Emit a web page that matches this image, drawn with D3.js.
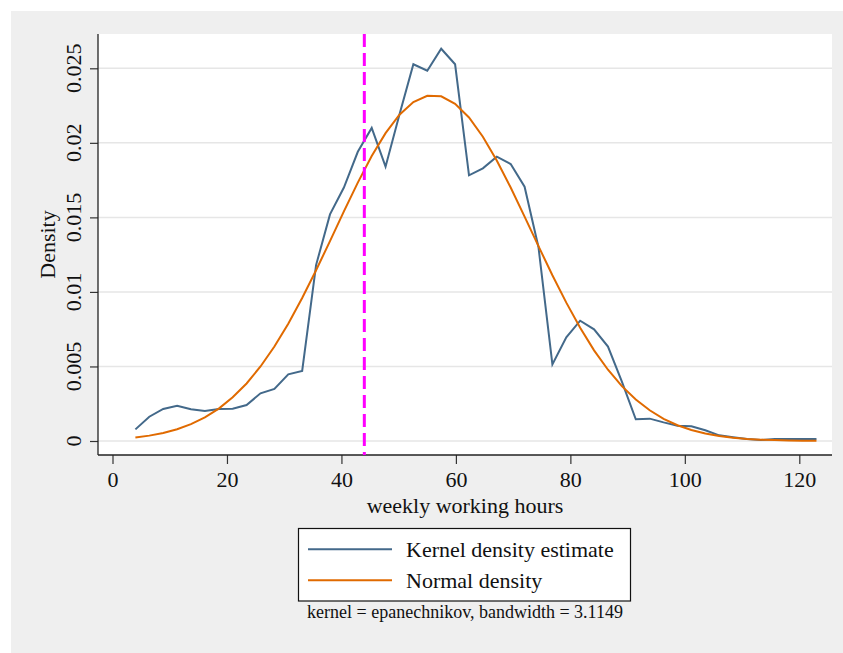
<!DOCTYPE html>
<html>
<head>
<meta charset="utf-8">
<script src="https://cdn.jsdelivr.net/npm/d3@7"></script>
<style>
  body { margin: 0; background: #fff; }
  svg text { font-family: "Liberation Serif", "Times New Roman", serif; fill: #111; }
</style>
</head>
<body>
<div id="chart"></div>
<script>
// evaluation grid (weekly working hours)
var hours = [4.00, 6.43, 8.86, 11.29, 13.71, 16.14, 18.57, 21.00, 23.43, 25.86,
             28.29, 30.71, 33.14, 35.57, 38.00, 40.43, 42.86, 45.29, 47.71, 50.14,
             52.57, 55.00, 57.43, 59.86, 62.29, 64.71, 67.14, 69.57, 72.00, 74.43,
             76.86, 79.29, 81.71, 84.14, 86.57, 89.00, 91.43, 93.86, 96.29, 98.71,
             101.14, 103.57, 106.00, 108.43, 110.86, 113.29, 115.71, 118.14, 120.57, 123.00];

var kernelDensity = [0.00078, 0.00163, 0.00215, 0.00237, 0.00213, 0.00201, 0.00215, 0.00217, 0.00241, 0.00320,
                     0.00349, 0.00447, 0.00470, 0.01180, 0.01520, 0.01700, 0.01940, 0.02100, 0.01840, 0.02190,
                     0.02527, 0.02484, 0.02631, 0.02527, 0.01782, 0.01829, 0.01907, 0.01858, 0.01706, 0.01300,
                     0.00514, 0.00696, 0.00807, 0.00749, 0.00633, 0.00398, 0.00146, 0.00150, 0.00125, 0.00103,
                     0.00099, 0.00072, 0.00038, 0.00025, 0.00013, 0.00007, 0.00013, 0.00013, 0.00013, 0.00013];

var normalDensity = [0.00024, 0.00036, 0.00054, 0.00079, 0.00113, 0.00158, 0.00217, 0.00293, 0.00386, 0.00500,
                     0.00634, 0.00787, 0.00959, 0.01145, 0.01341, 0.01540, 0.01733, 0.01911, 0.02065, 0.02189,
                     0.02274, 0.02316, 0.02312, 0.02262, 0.02170, 0.02041, 0.01881, 0.01700, 0.01505, 0.01307,
                     0.01112, 0.00928, 0.00759, 0.00608, 0.00478, 0.00368, 0.00278, 0.00206, 0.00149, 0.00106,
                     0.00074, 0.00051, 0.00034, 0.00022, 0.00014, 0.00009, 0.00006, 0.00003, 0.00002, 0.00001];

var xTicks = [0, 20, 40, 60, 80, 100, 120];
var yTicks = [0, 0.005, 0.01, 0.015, 0.02, 0.025];
var yTickLabels = ["0", "0.005", "0.01", "0.015", "0.02", "0.025"];
var refLine = 44;
var legendLabels = ["Kernel density estimate", "Normal density"];
var noteText = "kernel = epanechnikov, bandwidth = 3.1149";

var W = 843, H = 653;
var plot = {left: 98, right: 832, top: 34, bottom: 455};
var colors = {kernel: "#43698a", normal: "#e06a00", ref: "#ff00ff"};

var xScale = d3.scaleLinear().domain([0, 120]).range([112.5, 799.3]);
var yScale = d3.scaleLinear().domain([0, 0.025]).range([441, 68.3]);

var svg = d3.select("#chart").append("svg")
    .attr("width", W)
    .attr("height", H);

// graph region
svg.append("rect")
    .attr("x", 11).attr("y", 11)
    .attr("width", W - 11).attr("height", H - 11)
    .style("fill", "#efefef");

// plot region
svg.append("rect")
    .attr("x", plot.left).attr("y", plot.top)
    .attr("width", plot.right - plot.left)
    .attr("height", plot.bottom - plot.top)
    .style("fill", "#fff");

// grid lines
svg.append("g").selectAll("line")
    .data(yTicks)
    .join("line")
    .attr("x1", plot.left).attr("x2", plot.right)
    .attr("y1", function(d) { return yScale(d); })
    .attr("y2", function(d) { return yScale(d); })
    .style("stroke", "#e6e6e6")
    .style("stroke-width", 1.5);

// x axis
var xAxis = svg.append("g")
    .attr("transform", "translate(0," + plot.bottom + ")")
    .call(d3.axisBottom(xScale).tickValues(xTicks).tickSize(9).tickFormat(d3.format("d")));
xAxis.select(".domain").remove();
xAxis.selectAll(".tick line").style("stroke", "#333").style("stroke-width", 1.2);
xAxis.selectAll(".tick text")
    .attr("y", 32).attr("dy", null)
    .style("font-size", "22px")
    .style("font-family", "'Liberation Serif', serif")
    .style("fill", "#111");

// y axis
var yAxis = svg.append("g")
    .attr("transform", "translate(" + plot.left + ",0)")
    .call(d3.axisLeft(yScale).tickValues(yTicks).tickSize(8).tickFormat(""));
yAxis.select(".domain").remove();
yAxis.selectAll(".tick line").style("stroke", "#333").style("stroke-width", 1.2);

svg.append("g").selectAll("text")
    .data(yTicks)
    .join("text")
    .attr("transform", function(d) { return "translate(80.5," + yScale(d) + ") rotate(-90)"; })
    .attr("text-anchor", "middle")
    .style("font-size", "22px")
    .text(function(d, i) { return yTickLabels[i]; });

// axis lines
svg.append("line")
    .attr("x1", plot.left).attr("x2", plot.left)
    .attr("y1", plot.top).attr("y2", plot.bottom)
    .style("stroke", "#222").style("stroke-width", 1.3);
svg.append("line")
    .attr("x1", plot.left).attr("x2", plot.right)
    .attr("y1", plot.bottom).attr("y2", plot.bottom)
    .style("stroke", "#222").style("stroke-width", 1.3);

// axis titles
svg.append("text")
    .attr("transform", "translate(55," + ((plot.top + plot.bottom) / 2) + ") rotate(-90)")
    .attr("text-anchor", "middle")
    .style("font-size", "22px")
    .text("Density");

svg.append("text")
    .attr("x", (plot.left + plot.right) / 2)
    .attr("y", 512.5)
    .attr("text-anchor", "middle")
    .style("font-size", "22px")
    .text("weekly working hours");

// curves
var line = function(values) {
    return d3.line()
        .x(function(d, i) { return xScale(hours[i]); })
        .y(function(d) { return yScale(d); })(values);
};

svg.append("path")
    .attr("d", line(kernelDensity))
    .style("fill", "none")
    .style("stroke", colors.kernel)
    .style("stroke-width", 2)
    .style("stroke-linejoin", "miter");

svg.append("path")
    .attr("d", line(normalDensity))
    .style("fill", "none")
    .style("stroke", colors.normal)
    .style("stroke-width", 2);

// reference line at 44 hours
svg.append("line")
    .attr("x1", xScale(refLine)).attr("x2", xScale(refLine))
    .attr("y1", plot.top).attr("y2", plot.bottom)
    .style("stroke", colors.ref)
    .style("stroke-width", 3)
    .style("stroke-dasharray", "13,6");

// legend
var legend = svg.append("g");
legend.append("rect")
    .attr("x", 298.5).attr("y", 528.5)
    .attr("width", 332).attr("height", 72.5)
    .style("fill", "#fff")
    .style("stroke", "#111")
    .style("stroke-width", 1.2);

var legendColors = [colors.kernel, colors.normal];
legendLabels.forEach(function(label, i) {
    var cy = 549.3 + i * 31;
    legend.append("line")
        .attr("x1", 308).attr("x2", 392)
        .attr("y1", cy).attr("y2", cy)
        .style("stroke", legendColors[i])
        .style("stroke-width", 2);
    legend.append("text")
        .attr("x", 406).attr("y", cy + 7.5)
        .style("font-size", "22px")
        .text(label);
});

// note
svg.append("text")
    .attr("x", (plot.left + plot.right) / 2)
    .attr("y", 618)
    .attr("text-anchor", "middle")
    .style("font-size", "18px")
    .text(noteText);
</script>
</body>
</html>
